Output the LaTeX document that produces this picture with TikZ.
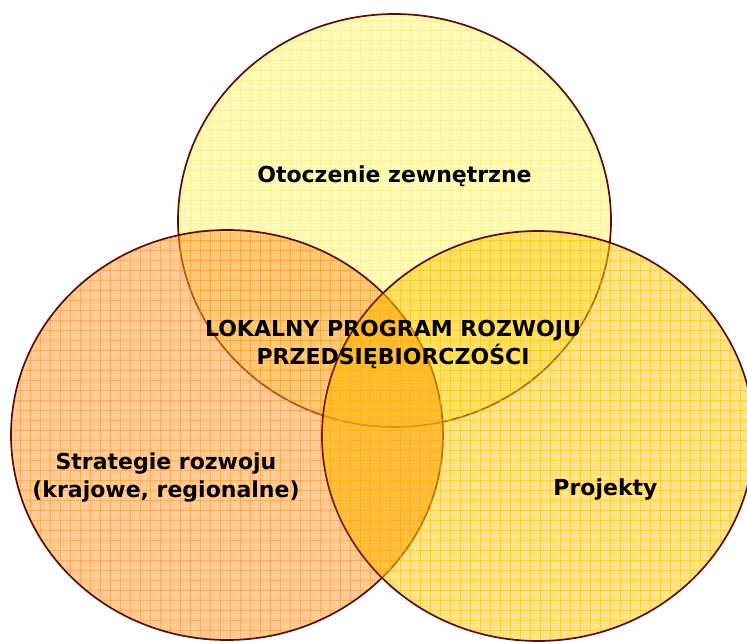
\documentclass[tikz,border=0pt]{standalone}
\usepackage{fontspec}
\setmainfont{DejaVu Sans}
\definecolor{topfill}{RGB}{255,245,121}
\definecolor{leftfill}{RGB}{255,153,51}
\definecolor{rightfill}{RGB}{255,201,25}
\definecolor{topgrid}{RGB}{240,225,60}
\definecolor{leftgrid}{RGB}{255,140,20}
\definecolor{rightgrid}{RGB}{255,190,0}
\definecolor{rim}{RGB}{92,12,12}
\definecolor{lensorange}{RGB}{255,150,0}
\begin{document}
\begin{tikzpicture}[x=1pt,y=-1pt,
  rimline/.style={draw=rim,line width=1.7pt},
  lbl/.style={font=\fontsize{22}{28}\selectfont\bfseries,align=center,inner sep=0pt,anchor=base}]
\def\ET{(394.5,220.5) ellipse [x radius=216.5pt, y radius=206.5pt]}
\def\EL{(227,435) ellipse [x radius=216pt, y radius=205pt]}
\def\ER{(538,436) ellipse [x radius=216pt, y radius=205pt]}
\useasboundingbox (0,0) rectangle (747,642);
\clip (0,0) rectangle (747,642);
% top circle
\fill[topfill,fill opacity=0.5] \ET;
\begin{scope}
  \clip \ET;
  \foreach \k in {0,10,...,750} \draw[topgrid,draw opacity=0.3,line width=0.8pt] (\k,0) -- (\k,642);
  \foreach \k in {0,10,...,650} \draw[topgrid,draw opacity=0.3,line width=0.8pt] (0,\k) -- (747,\k);
\end{scope}
\draw[rimline] \ET;
% left circle
\fill[leftfill,fill opacity=0.5] \EL;
\begin{scope}
  \clip \EL;
  \foreach \k in {0,10,...,750} \draw[leftgrid,draw opacity=0.45,line width=0.8pt] (\k,0) -- (\k,642);
  \foreach \k in {0,10,...,650} \draw[leftgrid,draw opacity=0.45,line width=0.8pt] (0,\k) -- (747,\k);
\end{scope}
\draw[rimline] \EL;
% right circle
\fill[rightfill,fill opacity=0.5] \ER;
\begin{scope}
  \clip \ER;
  \foreach \k in {0,10,...,750} \draw[rightgrid,draw opacity=0.5,line width=0.8pt] (\k,0) -- (\k,642);
  \foreach \k in {0,10,...,650} \draw[rightgrid,draw opacity=0.5,line width=0.8pt] (0,\k) -- (747,\k);
\end{scope}
\draw[rimline] \ER;
% orange tint of the left/right lens
\begin{scope}
  \clip \EL;
  \fill[lensorange,fill opacity=0.25] \ER;
\end{scope}
% labels
\node[lbl] (otoczenie) at (394.5,182) {Otoczenie zewnętrzne};
\node[lbl] (program) at (393,364) {LOKALNY PROGRAM ROZWOJU\\PRZEDSIĘBIORCZOŚCI};
\node[lbl] (strategie) at (166,497) {Strategie rozwoju\\(krajowe, regionalne)};
\node[lbl] (projekty) at (605.5,495) {Projekty};
\end{tikzpicture}
\end{document}
